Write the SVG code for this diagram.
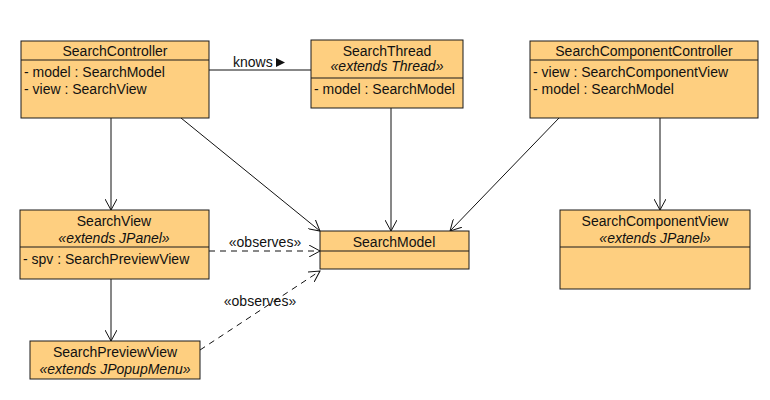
<svg xmlns="http://www.w3.org/2000/svg" width="770" height="400" viewBox="0 0 770 400">
<defs>
<style>
.box{fill:#fecf80;stroke:#1a1a1a;stroke-width:1}
.sep{stroke:#1a1a1a;stroke-width:1}
text{font-family:"Liberation Sans",Arial,sans-serif;font-size:14px;fill:#111}
.c{text-anchor:middle}
.i{font-style:italic}
.ln{stroke:#111;stroke-width:1;fill:none}
.d{stroke-dasharray:6,5}
</style>
<marker id="open" viewBox="0 0 12 12" refX="11" refY="6" markerWidth="12" markerHeight="12" markerUnits="userSpaceOnUse" orient="auto">
<path d="M0,0 L11,6 L0,12" fill="none" stroke="#111" stroke-width="1"/>
</marker>
</defs>
<rect width="770" height="400" fill="#fff"/>
<g id="connectors">
<line class="ln" x1="209" y1="70" x2="311" y2="70"/>
<text x="233" y="67">knows</text>
<path d="M276,58 L285,62.5 L276,67 Z" fill="#111"/>
<line class="ln" x1="111" y1="118" x2="111" y2="210" marker-end="url(#open)"/>
<line class="ln" x1="181" y1="118" x2="320" y2="231" marker-end="url(#open)"/>
<line class="ln" x1="391" y1="108" x2="391" y2="231" marker-end="url(#open)"/>
<line class="ln" x1="559" y1="118" x2="450" y2="231" marker-end="url(#open)"/>
<line class="ln" x1="660" y1="118" x2="660" y2="210" marker-end="url(#open)"/>
<line class="ln" x1="111" y1="279" x2="111" y2="341" marker-end="url(#open)"/>
<line class="ln d" x1="209" y1="251" x2="320" y2="251" marker-end="url(#open)"/>
<text class="c" x="265" y="247">«observes»</text>
<line class="ln d" x1="200" y1="350" x2="320" y2="271" marker-end="url(#open)"/>
<text class="c" x="260" y="306">«observes»</text>
</g>
<g id="SearchController">
<rect class="box" x="21" y="41" width="188" height="77"/>
<line class="sep" x1="21" y1="60" x2="209" y2="60"/>
<text class="c" x="115" y="56">SearchController</text>
<text x="24" y="77">- model : SearchModel</text>
<text x="24" y="94">- view : SearchView</text>
</g>
<g id="SearchThread">
<rect class="box" x="311" y="40" width="152" height="68"/>
<line class="sep" x1="311" y1="78" x2="463" y2="78"/>
<text class="c" x="387" y="56">SearchThread</text>
<text class="c i" x="387" y="71">«extends Thread»</text>
<text x="314" y="94">- model : SearchModel</text>
</g>
<g id="SearchComponentController">
<rect class="box" x="530" y="41" width="228" height="77"/>
<line class="sep" x1="530" y1="60" x2="758" y2="60"/>
<text class="c" x="644" y="56">SearchComponentController</text>
<text x="533" y="77">- view : SearchComponentView</text>
<text x="533" y="94">- model : SearchModel</text>
</g>
<g id="SearchView">
<rect class="box" x="20" y="210" width="189" height="69"/>
<line class="sep" x1="20" y1="247" x2="209" y2="247"/>
<text class="c" x="114" y="226">SearchView</text>
<text class="c i" x="114" y="243">«extends JPanel»</text>
<text x="23" y="264">- spv : SearchPreviewView</text>
</g>
<g id="SearchModel">
<rect class="box" x="320" y="231" width="149" height="38"/>
<line class="sep" x1="320" y1="251" x2="469" y2="251"/>
<text class="c" x="394" y="247">SearchModel</text>
</g>
<g id="SearchComponentView">
<rect class="box" x="560" y="210" width="190" height="79"/>
<line class="sep" x1="560" y1="247" x2="750" y2="247"/>
<text class="c" x="655" y="226">SearchComponentView</text>
<text class="c i" x="655" y="243">«extends JPanel»</text>
</g>
<g id="SearchPreviewView">
<rect class="box" x="30" y="341" width="170" height="38"/>
<text class="c" x="115" y="357">SearchPreviewView</text>
<text class="c i" x="115" y="374">«extends JPopupMenu»</text>
</g>
</svg>
